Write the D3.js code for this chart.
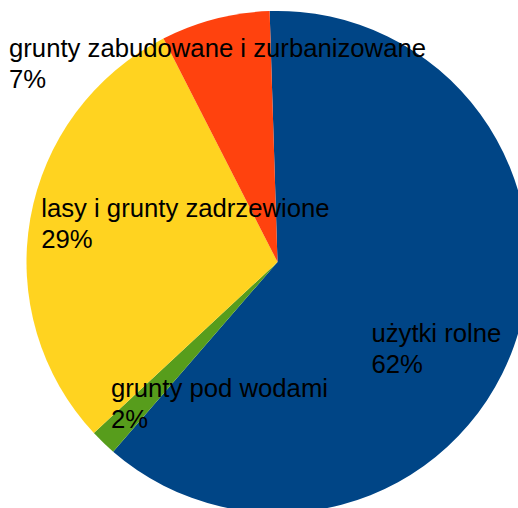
<!DOCTYPE html>
<html>
<head>
<meta charset="utf-8">
<script src="https://cdn.jsdelivr.net/npm/d3@7"></script>
<style>
  body { margin: 0; background: #fff; }
  svg text { font-family: "Liberation Sans", Arial, sans-serif; font-size: 25.7px; fill: #000; }
</style>
</head>
<body>
<svg id="chart" width="518" height="508"></svg>
<script>
// dane: struktura użytkowania gruntów (%)
var categories = ["użytki rolne", "grunty pod wodami", "lasy i grunty zadrzewione", "grunty zabudowane i zurbanizowane"];
var shares = [61.8, 1.7, 29.4, 7.0];
var colors = ["#004586", "#579d1c", "#ffd320", "#ff420e"];

(function () {
    var svg = d3.select("#chart");
    var cx = 277.5, cy = 262, r = 251;

    // pie starts slightly left of 12 o'clock, like the original
    var start = -1.8 * Math.PI / 180;
    var pie = d3.pie().sort(null).value(function (d) { return d.v; })
        .startAngle(start).endAngle(start + 2 * Math.PI);

    var data = categories.map(function (c, i) { return { name: c, v: shares[i], color: colors[i] }; });
    var arcs = pie(data);

    var arc = d3.arc().innerRadius(0).outerRadius(r);
    var labelArc = d3.arc().innerRadius(r * 0.6).outerRadius(r * 0.6);

    var g = svg.append("g").attr("transform", "translate(" + cx + "," + cy + ")");

    g.selectAll("path.slice")
        .data(arcs)
        .enter()
        .append("path")
        .classed("slice", true)
        .attr("d", arc)
        .attr("fill", function (d) { return d.data.color; });

    // label nudges from the centroid so the text blocks sit where the original had them
    var labelShift = [[-48, 30], [-62, 27], [-88, -19], [-231, -59]];
    var lineGap = 31;

    var labels = g.selectAll("text.label")
        .data(arcs)
        .enter()
        .append("text")
        .classed("label", true)
        .attr("transform", function (d, i) {
            var c = labelArc.centroid(d);
            return "translate(" + (c[0] + labelShift[i][0]) + "," + (c[1] + labelShift[i][1]) + ")";
        });

    labels.append("tspan")
        .attr("x", 0)
        .attr("y", 0)
        .text(function (d) { return d.data.name; });

    labels.append("tspan")
        .attr("x", 0)
        .attr("y", lineGap)
        .text(function (d) { return Math.round(d.data.v) + "%"; });
})();
</script>
</body>
</html>
